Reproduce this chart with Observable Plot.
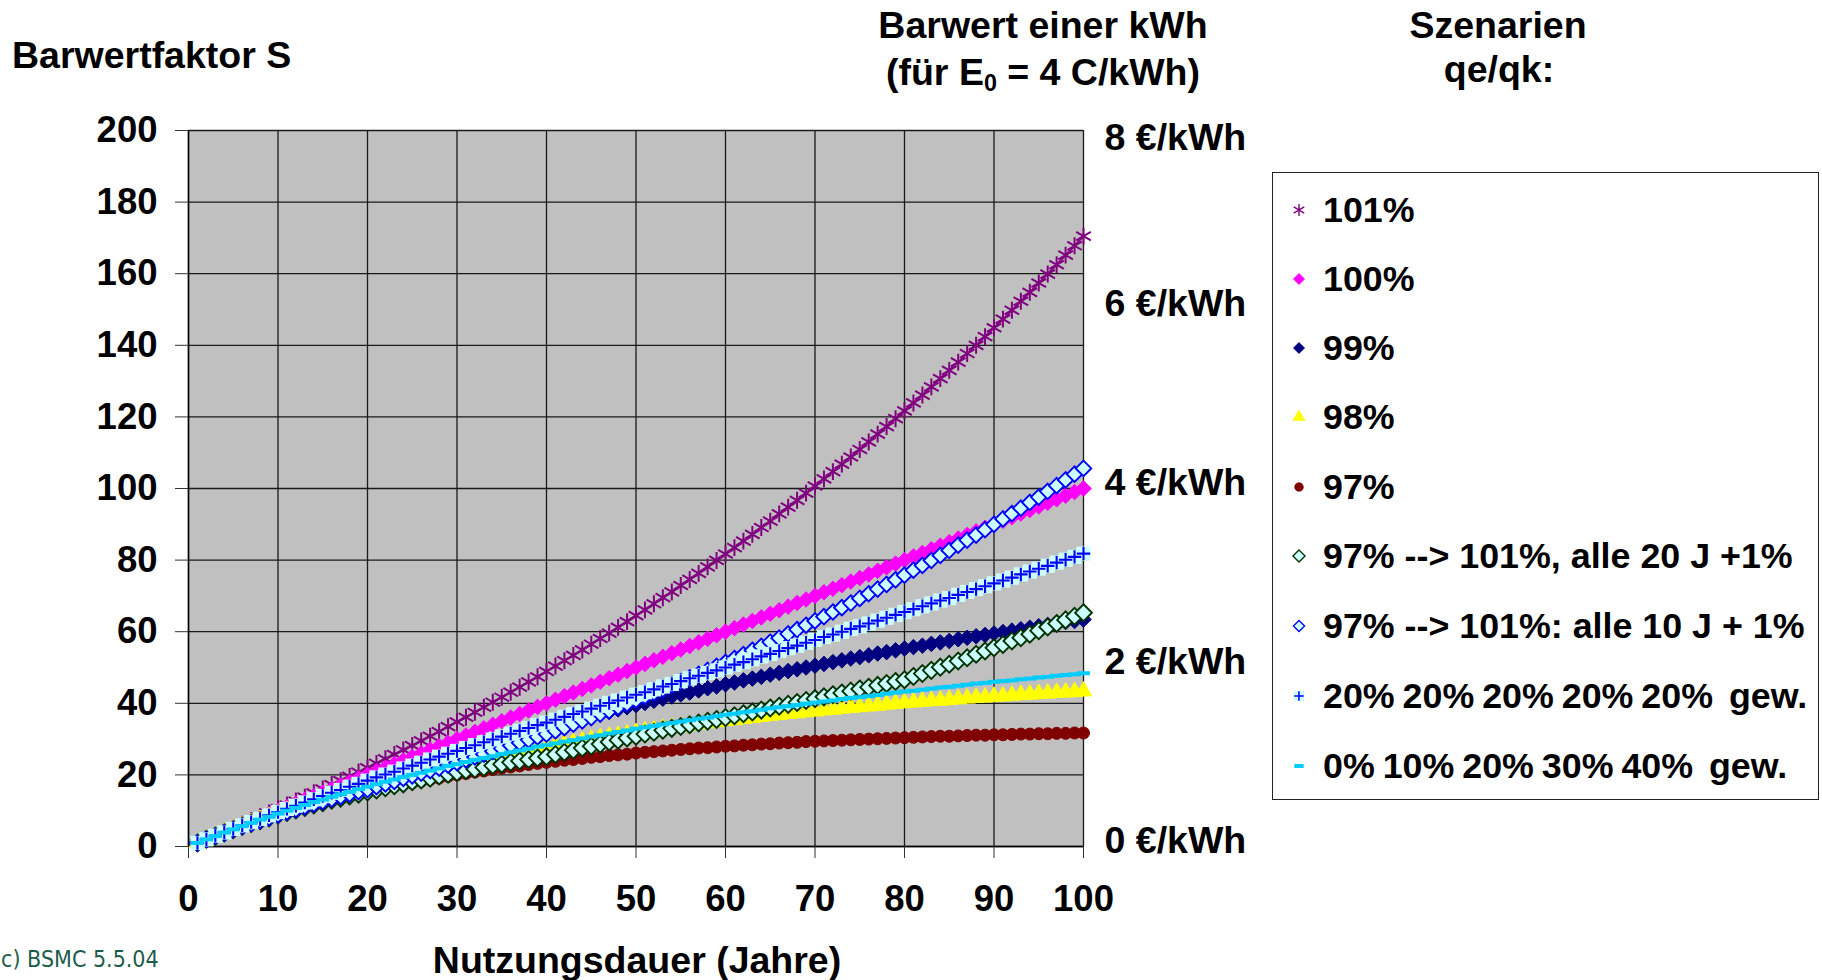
<!DOCTYPE html>
<html><head><meta charset="utf-8">
<script src="https://cdn.jsdelivr.net/npm/d3@7"></script>
<script src="https://cdn.jsdelivr.net/npm/@observablehq/plot@0.6"></script>
<style>
body{margin:0;background:#fff;}
#wrap{position:relative;width:1822px;height:980px;overflow:hidden;font-family:"Liberation Sans",Arial,sans-serif;font-weight:bold;color:#000;}
#wrap svg.plot{position:absolute;left:0;top:0;}
.t{position:absolute;white-space:nowrap;line-height:1;font-size:37.5px;}
.c{transform:translateX(-50%);}
#legend{position:absolute;left:1272px;top:172px;width:545px;height:626px;border:1.5px solid #222;background:#fff;}
.li{position:absolute;left:0;white-space:pre;line-height:1;font-size:35.8px;}
.li svg{position:absolute;left:11px;top:-15px;}
.li span{position:absolute;left:50px;top:-17px;}
.li span.tight{word-spacing:-2px;}
</style></head><body>
<div id="wrap"></div>
<script>
// ---------- data ----------
const years = d3.range(1, 101);
const seriesNames = ["101%", "100%", "99%", "98%", "97%",
  "97% --> 101%, alle 20 J +1%", "97% --> 101%: alle 10 J + 1%",
  "20% 20% 20% 20% 20%  gew.", "0% 10% 20% 30% 40%  gew."];

const s101 = [1.0,2.0,3.0,4.1,5.1,6.2,7.2,8.3,9.4,10.5,
  11.6,12.7,13.8,15.0,16.1,17.3,18.4,19.6,20.8,22.0,
  23.2,24.5,25.7,27.0,28.2,29.5,30.8,32.1,33.5,34.8,
  36.1,37.5,38.9,40.3,41.7,43.1,44.5,46.0,47.4,48.9,
  50.4,51.9,53.4,54.9,56.5,58.1,59.6,61.2,62.8,64.5,
  66.1,67.8,69.5,71.1,72.9,74.6,76.3,78.1,79.9,81.7,
  83.5,85.3,87.2,89.1,90.9,92.9,94.8,96.7,98.7,100.7,
  102.7,104.7,106.8,108.8,110.9,113.0,115.2,117.3,119.5,121.7,
  123.9,126.1,128.4,130.7,133.0,135.3,137.7,140.0,142.4,144.9,
  147.3,149.8,152.3,154.8,157.4,159.9,162.5,165.2,167.8,170.5];
const s100 = [1,2,3,4,5,6,7,8,9,10,
  11,12,13,14,15,16,17,18,19,20,
  21,22,23,24,25,26,27,28,29,30,
  31,32,33,34,35,36,37,38,39,40,
  41,42,43,44,45,46,47,48,49,50,
  51,52,53,54,55,56,57,58,59,60,
  61,62,63,64,65,66,67,68,69,70,
  71,72,73,74,75,76,77,78,79,80,
  81,82,83,84,85,86,87,88,89,90,
  91,92,93,94,95,96,97,98,99,100];
const s99 = [1.0,2.0,3.0,3.9,4.9,5.9,6.8,7.7,8.6,9.6,
  10.5,11.4,12.2,13.1,14.0,14.9,15.7,16.5,17.4,18.2,
  19.0,19.8,20.6,21.4,22.2,23.0,23.8,24.5,25.3,26.0,
  26.8,27.5,28.2,28.9,29.7,30.4,31.1,31.7,32.4,33.1,
  33.8,34.4,35.1,35.7,36.4,37.0,37.6,38.3,38.9,39.5,
  40.1,40.7,41.3,41.9,42.5,43.0,43.6,44.2,44.7,45.3,
  45.8,46.4,46.9,47.4,48.0,48.5,49.0,49.5,50.0,50.5,
  51.0,51.5,52.0,52.5,52.9,53.4,53.9,54.3,54.8,55.3,
  55.7,56.1,56.6,57.0,57.4,57.9,58.3,58.7,59.1,59.5,
  59.9,60.3,60.7,61.1,61.5,61.9,62.3,62.7,63.0,63.4];
const s98 = [1.0,2.0,2.9,3.9,4.8,5.7,6.6,7.5,8.3,9.1,
  10.0,10.8,11.5,12.3,13.1,13.8,14.5,15.2,15.9,16.6,
  17.3,17.9,18.6,19.2,19.8,20.4,21.0,21.6,22.2,22.7,
  23.3,23.8,24.3,24.8,25.3,25.8,26.3,26.8,27.3,27.7,
  28.2,28.6,29.0,29.4,29.9,30.3,30.7,31.0,31.4,31.8,
  32.2,32.5,32.9,33.2,33.5,33.9,34.2,34.5,34.8,35.1,
  35.4,35.7,36.0,36.3,36.6,36.8,37.1,37.3,37.6,37.8,
  38.1,38.3,38.6,38.8,39.0,39.2,39.4,39.7,39.9,40.1,
  40.3,40.5,40.7,40.8,41.0,41.2,41.4,41.6,41.7,41.9,
  42.0,42.2,42.4,42.5,42.7,42.8,43.0,43.1,43.2,43.4];
const s97 = [1.0,2.0,2.9,3.8,4.7,5.6,6.4,7.2,8.0,8.8,
  9.5,10.2,10.9,11.6,12.2,12.9,13.5,14.1,14.6,15.2,
  15.8,16.3,16.8,17.3,17.8,18.2,18.7,19.1,19.6,20.0,
  20.4,20.8,21.1,21.5,21.9,22.2,22.5,22.9,23.2,23.5,
  23.8,24.1,24.3,24.6,24.9,25.1,25.4,25.6,25.8,26.1,
  26.3,26.5,26.7,26.9,27.1,27.3,27.5,27.6,27.8,28.0,
  28.1,28.3,28.4,28.6,28.7,28.9,29.0,29.1,29.3,29.4,
  29.5,29.6,29.7,29.8,29.9,30.0,30.1,30.2,30.3,30.4,
  30.5,30.6,30.7,30.8,30.8,30.9,31.0,31.1,31.1,31.2,
  31.2,31.3,31.4,31.4,31.5,31.5,31.6,31.6,31.7,31.7];
const s20J = [1.0,2.0,2.9,3.8,4.7,5.6,6.4,7.2,8.0,8.8,
  9.5,10.2,10.9,11.6,12.2,12.9,13.5,14.1,14.6,15.2,
  15.8,16.4,17.0,17.5,18.1,18.6,19.1,19.7,20.2,20.7,
  21.2,21.6,22.1,22.6,23.0,23.5,23.9,24.3,24.7,25.1,
  25.7,26.3,26.9,27.5,28.0,28.6,29.2,29.7,30.3,30.8,
  31.4,31.9,32.5,33.0,33.5,34.0,34.5,35.0,35.5,36.0,
  36.5,37.1,37.6,38.1,38.7,39.2,39.7,40.2,40.8,41.3,
  41.8,42.4,42.9,43.4,44.0,44.5,45.0,45.5,46.1,46.6,
  47.5,48.3,49.2,50.1,50.9,51.8,52.7,53.7,54.6,55.5,
  56.4,57.4,58.3,59.3,60.3,61.3,62.3,63.3,64.3,65.3];
const s10J = [1.0,2.0,2.9,3.8,4.7,5.6,6.4,7.2,8.0,8.8,
  9.6,10.3,11.1,11.8,12.5,13.2,13.9,14.6,15.3,15.9,
  16.7,17.5,18.2,19.0,19.7,20.5,21.2,21.9,22.7,23.4,
  24.2,25.0,25.8,26.6,27.4,28.2,29.0,29.8,30.6,31.4,
  32.3,33.2,34.2,35.1,36.0,37.0,37.9,38.9,39.9,40.9,
  41.9,42.9,43.9,45.0,46.0,47.1,48.1,49.2,50.3,51.4,
  52.5,53.6,54.8,55.9,57.1,58.2,59.4,60.6,61.8,63.0,
  64.2,65.5,66.7,68.0,69.3,70.6,71.9,73.2,74.5,75.8,
  77.2,78.5,79.9,81.3,82.7,84.2,85.6,87.0,88.5,90.0,
  91.5,93.0,94.5,96.1,97.6,99.2,100.8,102.4,104.0,105.6];
const sW20 = [1.0,2.0,3.0,3.9,4.9,5.9,6.8,7.7,8.7,9.6,
  10.5,11.4,12.3,13.2,14.1,15.0,15.8,16.7,17.5,18.4,
  19.3,20.1,20.9,21.8,22.6,23.4,24.3,25.1,25.9,26.7,
  27.5,28.3,29.1,29.9,30.7,31.5,32.3,33.1,33.9,34.6,
  35.4,36.2,37.0,37.7,38.5,39.3,40.1,40.8,41.6,42.4,
  43.1,43.9,44.7,45.4,46.2,47.0,47.7,48.5,49.2,50.0,
  50.8,51.5,52.3,53.1,53.8,54.6,55.4,56.1,56.9,57.7,
  58.5,59.2,60.0,60.8,61.5,62.3,63.1,63.9,64.7,65.5,
  66.3,67.1,67.9,68.7,69.4,70.3,71.1,71.9,72.7,73.5,
  74.3,75.1,76.0,76.8,77.6,78.4,79.3,80.1,80.9,81.8];
const sW0 = [1.0,2.0,2.9,3.9,4.8,5.7,6.6,7.5,8.3,9.2,
  10.0,10.8,11.6,12.4,13.1,13.9,14.6,15.3,16.0,16.7,
  17.4,18.1,18.7,19.4,20.0,20.6,21.2,21.8,22.5,23.0,
  23.6,24.2,24.7,25.2,25.8,26.3,26.8,27.3,27.9,28.3,
  28.8,29.3,29.7,30.2,30.7,31.1,31.6,32.0,32.4,32.9,
  33.3,33.7,34.1,34.5,34.9,35.3,35.7,36.0,36.4,36.8,
  37.1,37.5,37.8,38.2,38.6,38.9,39.2,39.5,39.9,40.2,
  40.5,40.8,41.2,41.5,41.7,42.0,42.3,42.7,43.0,43.3,
  43.5,43.8,44.1,44.4,44.6,44.9,45.2,45.5,45.7,46.0,
  46.2,46.4,46.7,46.9,47.2,47.4,47.7,47.9,48.1,48.4];

const xTicks = [0,10,20,30,40,50,60,70,80,90,100];
const yTicks = [0,20,40,60,80,100,120,140,160,180,200];
const rightTickValues = [0,50,100,150];
const rightTickLabels = ["0 €/kWh","2 €/kWh","4 €/kWh","6 €/kWh"];
const rightTopValue = [200];
const rightTopLabel = ["8 €/kWh"];

// ---------- styles ----------
const dashSymbol = {draw(ctx, size){ const w = Math.sqrt(size); ctx.moveTo(-w/2,-2); ctx.lineTo(w/2,-2); ctx.lineTo(w/2,2); ctx.lineTo(-w/2,2); ctx.closePath(); }};
const styles = [
  [{symbol:"asterisk", stroke:"#800080", fill:"none", r:8, strokeWidth:2, line:"#800080"}],
  [{symbol:"diamond2", fill:"#ff00ff", stroke:"#ff00ff", r:7, strokeWidth:1}],
  [{symbol:"diamond2", fill:"#000080", stroke:"#000080", r:7, strokeWidth:1}],
  [{symbol:"triangle", fill:"#ffff00", stroke:"#ffff00", r:6.2, strokeWidth:1}],
  [{symbol:"circle", fill:"#800000", stroke:"#800000", r:6, strokeWidth:1}],
  [{symbol:"diamond2", fill:"#ccffff", stroke:"#003300", r:7.6, strokeWidth:1.9}],
  [{symbol:"diamond2", fill:"#ccffff", stroke:"#0000ff", r:7, strokeWidth:1.9}],
  [{symbol:"square", fill:"#ccffff", stroke:"none", r:8}, {symbol:"plus", fill:"none", stroke:"#0000ff", r:4.4, strokeWidth:2.1}],
  [{symbol:dashSymbol, fill:"#00ccff", stroke:"none", r:7.3}]
];
const seriesValues = [s101, s100, s99, s98, s97, s20J, s10J, sW20, sW0];

// ---------- chart ----------
const seriesMarks = [];
seriesValues.forEach((vals, i) => {
  const data = years.map((x, j) => ({x, y: vals[j]}));
  styles[i].forEach(st => {
    if (st.line) seriesMarks.push(Plot.line(data, {x:"x", y:"y", stroke: st.line, strokeWidth: 2}));
    seriesMarks.push(Plot.dot(data, {x:"x", y:"y", symbol: st.symbol, fill: st.fill, stroke: st.stroke, r: st.r, strokeWidth: st.strokeWidth || 1}));
  });
});

const chart = Plot.plot({
  width: 1822, height: 980,
  marginLeft: 188, marginRight: 739, marginTop: 130, marginBottom: 134,
  x: {domain: [0, 100]},
  y: {domain: [0, 200]},
  style: {fontFamily: '"Liberation Sans", Arial, sans-serif', fontWeight: "bold", background: "transparent", overflow: "visible"},
  marks: [
    Plot.frame({fill: "#c0c0c0", stroke: "none"}),
    Plot.ruleX(xTicks, {stroke: "#1a1a1a", strokeWidth: 1.3}),
    Plot.ruleY(yTicks, {stroke: "#1a1a1a", strokeWidth: 1.3}),
    Plot.ruleX([0], {stroke: "#000", strokeWidth: 1.5}),
    Plot.ruleY([0], {stroke: "#000", strokeWidth: 1.5}),
    Plot.axisX(xTicks, {tickSize: 12, tickPadding: 27, fontSize: 36.5, label: null, stroke: "#333"}),
    Plot.axisY(yTicks, {tickSize: 13, tickPadding: 18, fontSize: 36.5, label: null, stroke: "#333"}),
    Plot.axisY(rightTickValues, {anchor: "right", tickSize: 0, tickPadding: 21, fontSize: 37.5, label: null, dy: -6,
      tickFormat: d => rightTickLabels[rightTickValues.indexOf(d)]}),
    Plot.axisY(rightTopValue, {anchor: "right", tickSize: 0, tickPadding: 21, fontSize: 37.5, label: null, dy: 7,
      tickFormat: d => rightTopLabel[0]}),
    ...seriesMarks
  ]
});
chart.classList.add("plot");
const wrap = document.getElementById("wrap");
wrap.appendChild(chart);

// ---------- texts ----------
function addText(html, css, cls){ const d = document.createElement("div"); d.className = "t " + (cls||""); d.innerHTML = html; Object.assign(d.style, css); wrap.appendChild(d); return d; }
addText("Barwertfaktor S", {left:"12px", top:"37px"});
addText("Barwert einer kWh", {left:"1043px", top:"7px"}, "c");
addText('(für E<sub style="font-size:0.62em;vertical-align:-0.25em;line-height:0">0</sub> = 4 C/kWh)', {left:"1043px", top:"54px"}, "c");
addText("Szenarien", {left:"1498px", top:"7px"}, "c");
addText("qe/qk:", {left:"1499px", top:"51px"}, "c");
addText("Nutzungsdauer (Jahre)", {left:"637px", top:"942px"}, "c");
addText("(c) BSMC 5.5.04", {left:"-7px", top:"948px", fontSize:"23px", fontWeight:"normal", color:"#1d5c4c", fontFamily:'"DejaVu Sans Condensed","DejaVu Sans",sans-serif'});

// ---------- legend ----------
const legend = document.createElement("div"); legend.id = "legend"; wrap.appendChild(legend);
const legendY = [37, 106, 175, 244, 314, 383, 453, 523, 593];
seriesNames.forEach((name, i) => {
  const row = document.createElement("div"); row.className = "li"; row.style.top = legendY[i] + "px";
  const svg = d3.create("svg").attr("width", 30).attr("height", 30);
  const g = svg.append("g").attr("transform", "translate(15,15)");
  styles[i].forEach(st => {
    const type = typeof st.symbol === "string" ? ({asterisk:d3.symbolAsterisk, diamond2:d3.symbolDiamond2, triangle:d3.symbolTriangle, circle:d3.symbolCircle, square:d3.symbolSquare, plus:d3.symbolPlus})[st.symbol] : st.symbol;
    const rr = st.r * 0.72;
    g.append("path").attr("d", d3.symbol(type, Math.PI * rr * rr)())
      .attr("fill", st.fill).attr("stroke", st.stroke).attr("stroke-width", (st.strokeWidth || 1) * 0.7);
  });
  row.appendChild(svg.node());
  const sp = document.createElement("span"); sp.textContent = name;
  if (name.includes("gew.")) sp.className = "tight";
  row.appendChild(sp);
  legend.appendChild(row);
});
</script>
</body></html>
